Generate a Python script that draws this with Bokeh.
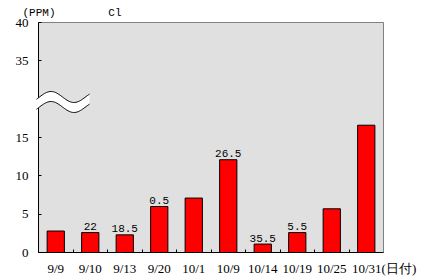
import numpy as np
from bokeh.plotting import figure
from bokeh.models import FixedTicker, ColumnDataSource, Range1d, Title
from bokeh.core.properties import value
from bokeh.embed import file_html
from bokeh.resources import INLINE

# ---- data ----
dates = ["9/9", "9/10", "9/13", "9/20", "10/1", "10/9", "10/14", "10/19", "10/25", "10/31"]
values = [2.8, 2.6, 2.3, 6.0, 7.1, 12.1, 1.1, 2.6, 5.7, 16.6]
bar_notes = ["", "22", "18.5", "0.5", "", "26.5", "35.5", "5.5", "", ""]
y_ticks = [0, 5, 10, 15, 35, 40]
unit_label = "(PPM)"
element_label = "Cl"
x_unit_label = "(日付)"
break_gap = 10  # values above the break are drawn shifted down by this

# ---- layout ----
W, H = 423, 279
LEFT, RIGHT, TOP, BOTTOM = 38, 40, 22, 27
n = len(dates)
ymax_disp = 40 - break_gap

def disp(v):
    return v if v < 20 else v - break_gap

p = figure(width=W, height=H, output_backend="svg", toolbar_location=None,
           x_range=Range1d(0, n), y_range=Range1d(0, ymax_disp),
           min_border_left=LEFT, min_border_right=RIGHT,
           min_border_top=TOP, min_border_bottom=BOTTOM)
p.border_fill_color = "white"
p.background_fill_color = "#e0e0e0"
p.outline_line_color = "#808080"
p.grid.visible = False

xc = [i + 0.5 for i in range(n)]
src = ColumnDataSource(dict(x=xc, top=[disp(v) for v in values], note=bar_notes))
p.vbar(x="x", top="top", bottom=0, width=0.5, source=src,
       fill_color="#ff0000", line_color="black", line_width=1)
p.text(x="x", y="top", text="note", source=src, text_align="center",
       text_baseline="alphabetic", y_offset=-6,
       text_font=value("Liberation Mono"), text_font_size="11px", text_color="black")

# x axis (last label carries the axis unit, padded so the date stays centred)
NB = "\u00a0"
labels = list(dates)
labels[-1] = NB * 11 + dates[-1] + x_unit_label
xa = p.xaxis[0]
xa.ticker = FixedTicker(ticks=xc, minor_ticks=list(range(1, n)))
xa.major_label_overrides = {x: d for x, d in zip(xc, labels)}
xa.major_tick_in = 0
xa.major_tick_out = 0
xa.minor_tick_in = 3
xa.minor_tick_out = 0
xa.axis_line_color = "black"
xa.minor_tick_line_color = "black"
xa.major_label_standoff = 8
xa.major_label_text_font = "Liberation Sans Narrow"
xa.major_label_text_font_size = "13px"
xa.major_label_text_color = "black"

# y axis
ya = p.yaxis[0]
disp_ticks = [disp(t) for t in y_ticks]
ya.ticker = FixedTicker(ticks=disp_ticks, minor_ticks=[])
ya.major_label_overrides = {d: str(t) for d, t in zip(disp_ticks, y_ticks)}
ya.major_tick_in = 3
ya.major_tick_out = 0
ya.major_tick_line_color = "black"
ya.axis_line_color = "black"
ya.major_label_standoff = 10
ya.major_label_text_font = "Liberation Sans Narrow"
ya.major_label_text_font_size = "13px"
ya.major_label_text_color = "black"

# ---- axis break symbol (pixel geometry converted to data units) ----
fw = W - LEFT - RIGHT
fh = H - TOP - BOTTOM
def px2x(px):
    return (px - LEFT) / fw * n
def py2y(py):
    return (H - BOTTOM - py) / fh * ymax_disp
pxs = np.linspace(36, 89, 60)
top_py = 96.5 - 5.5 * np.sin(2 * np.pi * (pxs - 39) / 46)
bot_py = top_py + 10
xs = [px2x(v) for v in pxs]
p.patch(xs + xs[::-1], [py2y(v) for v in top_py] + [py2y(v) for v in bot_py][::-1],
        fill_color="white", line_color=None, level="overlay")
p.line(xs, [py2y(v) for v in top_py], line_color="black", line_width=1, level="overlay")
p.line(xs, [py2y(v) for v in bot_py], line_color="black", line_width=1, level="overlay")

# ---- top texts as a title row ----
p.add_layout(Title(text=unit_label + NB * 8 + element_label, align="left", offset=-16,
                   standoff=7, text_font="Liberation Mono", text_font_size="11px",
                   text_font_style="normal", text_color="black"), "above")

open("out.html", "w").write(file_html(p, INLINE))
